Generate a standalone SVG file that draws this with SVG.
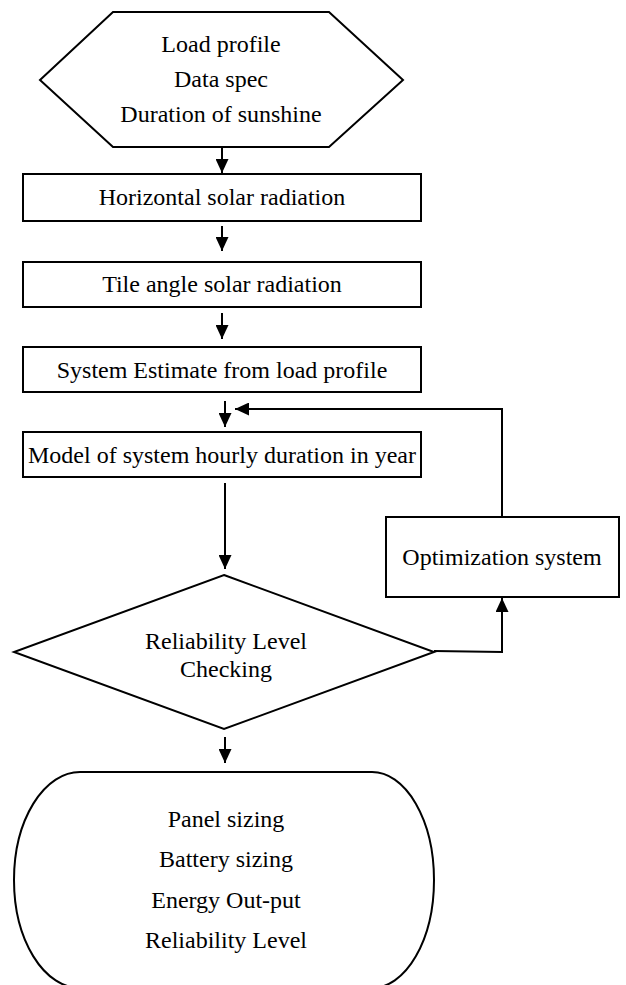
<svg xmlns="http://www.w3.org/2000/svg" width="626" height="985" viewBox="0 0 626 985">
<style>
.shape{fill:#fff;stroke:#000;stroke-width:2}
.lbl{font-family:"Liberation Serif","Times New Roman",serif;font-size:24px;fill:#000;text-anchor:middle}
.conn{fill:none;stroke:#000;stroke-width:2}
</style>
<defs>
<marker id="arr" markerUnits="userSpaceOnUse" markerWidth="14" markerHeight="13" refX="14" refY="6.5" orient="auto">
<path d="M0,0 L14,6.5 L0,13 Z" fill="#000"/>
</marker>
</defs>
<rect width="626" height="985" fill="#fff"/>
<g id="input">
<polygon class="shape" points="113,12 329,12 403,80 329,147 113,147 40,80"/>
<text class="lbl" x="221" y="52">Load profile</text>
<text class="lbl" x="221" y="87">Data spec</text>
<text class="lbl" x="221" y="122">Duration of sunshine</text>
</g>
<g id="horizontal">
<rect class="shape" x="23" y="174" width="398" height="47"/>
<text class="lbl" x="222" y="205">Horizontal solar radiation</text>
</g>
<g id="tilt">
<rect class="shape" x="23" y="262" width="398" height="45"/>
<text class="lbl" x="222" y="292">Tile angle solar radiation</text>
</g>
<g id="estimate">
<rect class="shape" x="23" y="347" width="398" height="45"/>
<text class="lbl" x="222" y="378">System Estimate from load profile</text>
</g>
<g id="model">
<rect class="shape" x="23" y="432" width="398" height="45"/>
<text class="lbl" x="222" y="463">Model of system hourly duration in year</text>
</g>
<g id="check">
<polygon class="shape" points="224,575 434,652 224,729 14,652"/>
<text class="lbl" x="226" y="649">Reliability Level</text>
<text class="lbl" x="226" y="677">Checking</text>
</g>
<g id="optimization">
<rect class="shape" x="386" y="517" width="233" height="80"/>
<text class="lbl" x="502" y="565">Optimization system</text>
</g>
<g id="output">
<path class="shape" d="M80,772 L372,772 A62,108 0 0 1 372,988 L80,988 A66,108 0 0 1 80,772 Z"/>
<text class="lbl" x="226" y="827">Panel sizing</text>
<text class="lbl" x="226" y="867">Battery sizing</text>
<text class="lbl" x="226" y="908">Energy Out-put</text>
<text class="lbl" x="226" y="948">Reliability Level</text>
</g>
<g id="connectors">
<line class="conn" x1="222" y1="147" x2="222" y2="173" marker-end="url(#arr)"/>
<line class="conn" x1="222" y1="226" x2="222" y2="251" marker-end="url(#arr)"/>
<line class="conn" x1="222" y1="313" x2="222" y2="339" marker-end="url(#arr)"/>
<line class="conn" x1="225" y1="401" x2="225" y2="427" marker-end="url(#arr)"/>
<line class="conn" x1="225" y1="483" x2="225" y2="569" marker-end="url(#arr)"/>
<polyline class="conn" points="434,651 502,652 502,598" marker-end="url(#arr)"/>
<polyline class="conn" points="502,517 502,409 235,409" marker-end="url(#arr)"/>
<line class="conn" x1="225" y1="737" x2="225" y2="763" marker-end="url(#arr)"/>
</g>
</svg>
